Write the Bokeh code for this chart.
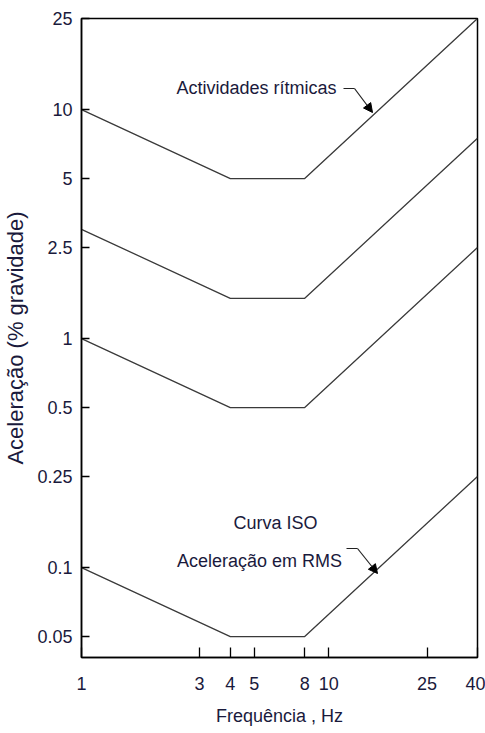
import math
from bokeh.plotting import figure
from bokeh.models import (Range1d, FixedTicker, CustomJSTickFormatter, Label,
                          Arrow, NormalHead)
from bokeh.embed import file_html
from bokeh.resources import INLINE

# ---- data ----
freq = [1, 4, 8, 40]
iso_base = [0.1, 0.05, 0.05, 0.25]
curve_x10 = [1, 0.5, 0.5, 2.5]
curve_x30 = [3, 1.5, 1.5, 7.5]
curve_x100 = [10, 5, 5, 25]
x_ticks = [1, 3, 4, 5, 8, 10, 25, 40]
y_ticks = [0.05, 0.1, 0.25, 0.5, 1, 2.5, 5, 10, 25]

FONT = "Liberation Sans"
TXT = "#1a1a3c"

X0, X1 = 1, 40
Y0, Y1 = 0.0405, 25

W, H = 485, 733
L, R, T, B = 81, 8, 18, 76

p = figure(width=W, height=H, x_axis_type="log", y_axis_type="log",
           x_range=Range1d(X0, X1), y_range=Range1d(Y0, Y1),
           output_backend="svg", toolbar_location=None,
           min_border_left=L, min_border_right=R, min_border_top=T,
           min_border_bottom=B)
p.grid.visible = False
p.outline_line_color = "black"
p.outline_line_width = 1.5
p.background_fill_color = "white"
p.border_fill_color = "white"

# helpers: map reference pixel position to data coords (for annotations)
fw = W - L - R
fh = H - T - B
def px2x(px):
    return 10 ** (math.log10(X0) + (px - L) / fw * (math.log10(X1) - math.log10(X0)))
def py2y(py):
    return 10 ** (math.log10(Y1) - (py - T) / fh * (math.log10(Y1) - math.log10(Y0)))

fmt = CustomJSTickFormatter(code="return tick.toString();")

for ax in (p.xaxis[0], p.yaxis[0]):
    ax.formatter = fmt
    ax.minor_tick_line_color = None
    ax.major_tick_out = 0
    ax.axis_line_color = "black"
    ax.axis_line_width = 1.5
    ax.major_tick_line_width = 1.3
    ax.major_label_text_font = FONT
    ax.major_label_text_font_size = "18px"
    ax.major_label_text_color = TXT
    ax.axis_label_text_font = FONT
    ax.axis_label_text_font_style = "normal"
    ax.axis_label_text_color = TXT

p.xaxis.ticker = FixedTicker(ticks=x_ticks)
p.yaxis.ticker = FixedTicker(ticks=y_ticks)
p.xaxis.major_tick_in = 10
p.yaxis.major_tick_in = 8
p.xaxis.major_label_standoff = 19
p.yaxis.major_label_standoff = 9
p.xaxis.axis_label = "Frequência , Hz"
p.yaxis.axis_label = "Aceleração (% gravidade)"
p.xaxis.axis_label_text_font_size = "18px"
p.yaxis.axis_label_text_font_size = "22px"
p.xaxis.axis_label_standoff = 13
p.yaxis.axis_label_standoff = 6

for ys in (iso_base, curve_x10, curve_x30, curve_x100):
    p.line(freq, ys, line_color="#3a3a3a", line_width=1.3)

def lab(text, px, py):
    p.add_layout(Label(x=px2x(px), y=py2y(py), text=text, text_align="center",
                       text_baseline="middle", text_font=FONT,
                       text_font_size="18px", text_color=TXT))

lab("Actividades rítmicas", 256, 87)
lab("Curva ISO", 275, 522)
lab("Aceleração em RMS", 259, 560)

def leader(p0, p1, tip):
    p.line([px2x(p0[0]), px2x(p1[0])], [py2y(p0[1]), py2y(p1[1])],
           line_color="#222", line_width=1.2)
    p.add_layout(Arrow(x_start=px2x(p1[0]), y_start=py2y(p1[1]),
                       x_end=px2x(tip[0]), y_end=py2y(tip[1]),
                       line_color="#222", line_width=1.2,
                       end=NormalHead(size=9, fill_color="black",
                                      line_color="black")))

leader((343, 88), (354, 88), (372, 112))
leader((346, 548), (357, 548), (377, 573))

open("out.html", "w").write(file_html(p, INLINE))
